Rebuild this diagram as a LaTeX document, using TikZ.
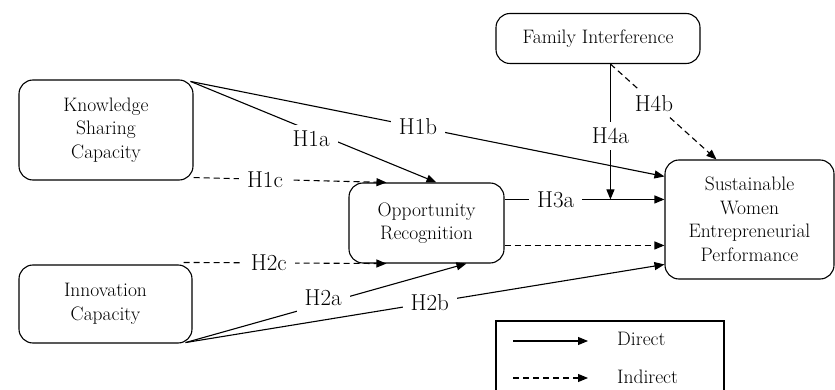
\documentclass[tikz,border=0pt]{standalone}
\usepackage{fontspec}
\usetikzlibrary{arrows.meta,calc}
\begin{document}
\begin{tikzpicture}[x=1pt,y=-1pt,
  box/.style={draw, rounded corners=14pt, line width=1.1pt, align=center, inner sep=0pt, font=\fontsize{19.5}{23.5}\selectfont},
  lab/.style={fill=white, inner xsep=8pt, inner ysep=6pt, font=\fontsize{23}{26}\selectfont},
  legtext/.style={anchor=west, inner sep=0pt, font=\fontsize{19.5}{22}\selectfont},
  conn/.style={line width=1.1pt, -{Triangle[length=10pt,width=8pt]}},
  ind/.style={conn, dash pattern=on 6pt off 4pt},
  plain/.style={line width=1.1pt},
]
\useasboundingbox (0,0) rectangle (835,390);

% nodes
\node[box, minimum width=174pt, minimum height=100pt] (ksc) at (106,130) {Knowledge\\Sharing\\Capacity};
\node[box, minimum width=173pt, minimum height=78pt] (ic) at (105.5,304) {Innovation\\Capacity};
\node[box, minimum width=155pt, minimum height=80pt] (or) at (426.5,223) {Opportunity\\Recognition};
\node[box, minimum width=204pt, minimum height=50pt] (fi) at (598,38.5) {Family Interference};
\node[box, minimum width=169pt, minimum height=119pt] (swep) at (749.5,219.5) {Sustainable\\Women\\Entrepreneurial\\Performance};

% helper coordinates
\coordinate (kscA) at ($(ksc.north east)+(-3,2)$);
\coordinate (kscB) at ($(ksc.south east)+(0,-3)$);
\coordinate (icA) at ($(ic.north east)+(-9,-2)$);
\coordinate (icB) at ($(ic.south east)+(-7,-1)$);
\coordinate (or1c) at ($(or.north west)+(38,0)$);
\coordinate (or1a) at ($(or.north west)+(88,0)$);
\coordinate (or2c) at ($(or.south west)+(38,0)$);
\coordinate (or2a) at ($(or.south west)+(118,0)$);
\coordinate (orR1) at ($(or.north east)+(0,17)$);
\coordinate (orR2) at ($(or.north east)+(0,63)$);
\coordinate (sw1b) at ($(swep.north west)+(0,17)$);
\coordinate (sw2b) at ($(swep.north west)+(0,105)$);
\coordinate (sw3a) at (swep.west |- orR1);
\coordinate (sw3i) at (swep.west |- orR2);
\coordinate (sw4b) at ($(swep.north west)+(52,0)$);
\coordinate (fiB) at ($(fi.south west)+(115,0)$);
\coordinate (h4end) at (fiB |- orR1);

% connectors
\draw[conn] (kscA) -- node[lab, pos=0.49, yshift=-8pt] {H1a} (or1a);
\draw[conn] (kscA) -- node[lab, pos=0.48] {H1b} (sw1b);
\draw[ind] (kscB) -- node[lab, pos=0.37] {H1c} (or1c);
\draw[ind] (icA) -- node[lab, pos=0.42] {H2c} (or2c);
\draw[conn] (icB) -- node[lab, pos=0.49, yshift=6pt] {H2a} (or2a);
\draw[conn] (icB) -- node[lab, pos=0.51] {H2b} (sw2b);
\draw[conn] (orR1) -- node[lab, pos=0.32] {H3a} (sw3a);
\draw[ind] (orR2) -- (sw3i);
\draw[conn] (fiB) -- node[lab, pos=0.53] {H4a} (h4end);
\draw[ind] (fiB) -- node[lab, pos=0.41] {H4b} (sw4b);

% legend
\coordinate (lgBL) at (496,395);
\coordinate (lgTL) at (496,321);
\coordinate (lgTR) at (724,321);
\coordinate (lgBR) at (724,395);
\draw[plain] (lgBL) -- (lgTL) -- (lgTR) -- (lgBR);
\coordinate (ld1s) at (513,341);
\coordinate (ld1e) at (588,341);
\coordinate (ld2s) at (513,378);
\coordinate (ld2e) at (588,378);
\draw[conn] (ld1s) -- (ld1e);
\draw[ind] (ld2s) -- (ld2e);
\node[legtext] (ldirect) at (617,339) {Direct};
\node[legtext] (lindirect) at (617,377) {Indirect};
\end{tikzpicture}
\end{document}
